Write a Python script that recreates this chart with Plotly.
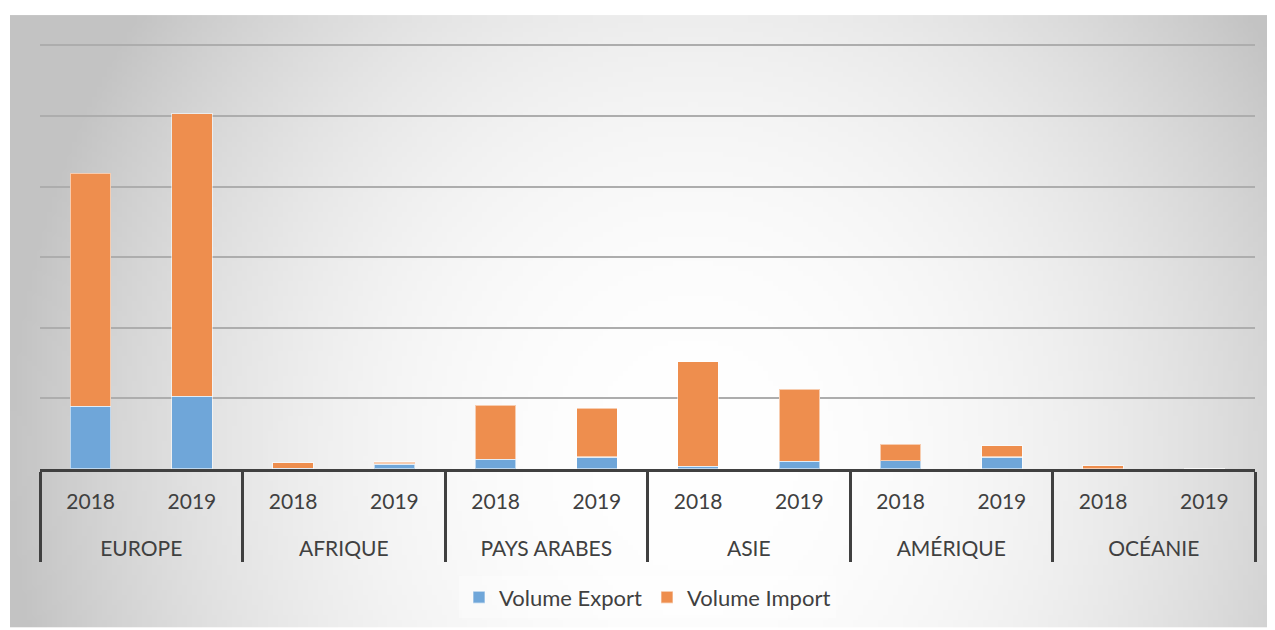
import base64
import struct
import zlib

import numpy as np
import plotly.graph_objects as go

# Données (unité : 1 ligne de grille = 100)
regions = ["EUROPE", "AFRIQUE", "PAYS ARABES", "ASIE", "AMÉRIQUE", "OCÉANIE"]
years = ["2018", "2019"]
volume_export = [89, 103, 1, 7, 14, 17, 4, 11, 12, 17, 0, 0]
volume_import = [330, 400, 8, 3, 76, 69, 148, 102, 23, 16, 4.5, 0]

BLUE = "#6fa6d9"
ORANGE = "#ee8e4e"
TEXT = "#404040"

x_region = [r for r in regions for _ in years]
# ligne vide sous l'année pour espacer les deux niveaux d'étiquettes
x_year = [f"{y}<br><span style='font-size:40px'> </span>" for _ in regions for y in years]


def _gradient_png(w: int, h: int) -> str:
    """Fond dégradé radial (blanc au centre, gris sur les bords)."""
    xs = (np.arange(w) + 0.5) / w
    ys = (np.arange(h) + 0.5) / h
    u, v = np.meshgrid((xs - 0.54) / 0.5, (ys - 0.72) / 1.15)
    r = np.sqrt(u ** 2 + v ** 2)
    g = 255 - 50 * r ** 2.2
    g = np.clip(g, 195, 255).astype(np.uint8)
    raw = b"".join(b"\x00" + bytes(row) for row in g)

    def chunk(tag, data):
        c = struct.pack(">I", len(data)) + tag + data
        return c + struct.pack(">I", zlib.crc32(tag + data) & 0xFFFFFFFF)

    png = b"\x89PNG\r\n\x1a\n"
    png += chunk(b"IHDR", struct.pack(">IIBBBBB", w, h, 8, 0, 0, 0, 0))
    png += chunk(b"IDAT", zlib.compress(raw, 9))
    png += chunk(b"IEND", b"")
    return "data:image/png;base64," + base64.b64encode(png).decode()


# la page décale la figure de 8 px (marge du body)
OFF = 8
W, H = 1275 - OFF, 630 - OFF
ML, MR, MT, MB = 40 - OFF, 20, 32 - OFF, 159
PW, PH = W - ML - MR, H - MT - MB


def px_x(px):
    return (px - OFF - ML) / PW


def px_y(py):
    return (H - MB - (py - OFF)) / PH


fig = go.Figure()
fig.add_trace(go.Bar(
    x=[x_region, x_year], y=volume_export, name="Volume Export",
    marker=dict(color=BLUE, line=dict(color="rgba(255,255,255,0.55)", width=1.2)),
))
fig.add_trace(go.Bar(
    x=[x_region, x_year], y=volume_import, name="Volume Import",
    marker=dict(color=ORANGE, line=dict(color="rgba(255,255,255,0.55)", width=1.2)),
))

fig.add_layout_image(dict(
    source=_gradient_png(253, 123),
    xref="paper", yref="paper",
    x=px_x(10), y=px_y(15),
    sizex=px_x(1275) - px_x(10),
    sizey=px_y(15) - px_y(630),
    xanchor="left", yanchor="top", sizing="stretch",
    layer="below",
))

fig.update_layout(
    width=W, height=H,
    margin=dict(l=ML, r=MR, t=MT, b=MB),
    barmode="stack", bargap=0.6,
    paper_bgcolor="white", plot_bgcolor="rgba(0,0,0,0)",
    font=dict(family="Lato, Open Sans, sans-serif", size=21, color=TEXT),
    showlegend=True,
    legend=dict(
        orientation="h", traceorder="normal",
        x=0.5, xanchor="center", y=px_y(600), yanchor="middle",
        bgcolor="rgba(255,255,255,0.35)", font=dict(size=22, color=TEXT),
        itemwidth=30,
    ),
)
fig.update_xaxes(
    type="multicategory",
    showline=True, linecolor=TEXT, linewidth=3,
    showdividers=True, dividercolor=TEXT, dividerwidth=3,
    tickfont=dict(size=21, color=TEXT),
    ticklabelstandoff=12,
    showgrid=False,
)
fig.update_yaxes(
    range=[0, 619], dtick=100, showticklabels=False,
    showgrid=True, gridcolor="#adadad", gridwidth=1.5,
    zeroline=False,
)

fig.write_html("out.html")
